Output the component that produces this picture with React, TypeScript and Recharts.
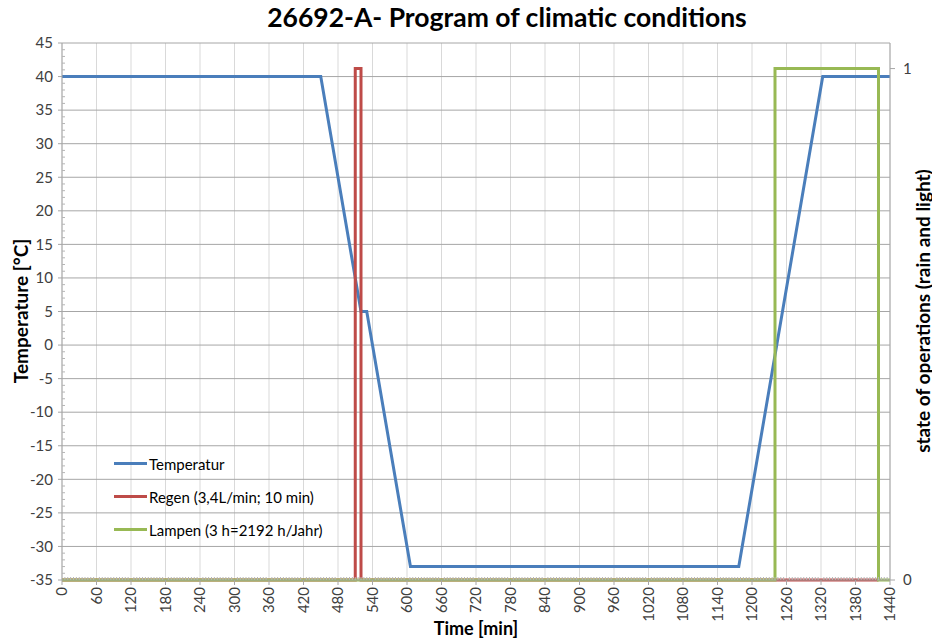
import { CartesianGrid, Line, LineChart, XAxis, YAxis } from "recharts";

const tempTime = [0, 450, 520, 530, 606, 1177, 1323, 1440];
const tempValue = [40, 40, 5, 5, -33, -33, 40, 40];

const rainTime = [0, 510, 510, 520, 520, 1420];
const rainState = [0, 0, 1, 1, 0, 0];

const lampTime = [0, 1240, 1240, 1420, 1420, 1440];
const lampState = [0, 0, 1, 1, 0, 0];

const xTicks = [
   0, 60, 120, 180, 240, 300, 360, 420, 480, 540, 600, 660, 720, 780, 840, 900, 960, 1020,
   1080, 1140, 1200, 1260, 1320, 1380, 1440,
];
const yTicks = [-35, -30, -25, -20, -15, -10, -5, 0, 5, 10, 15, 20, 25, 30, 35, 40, 45];
const stateTicks = [0, 1];

// minor tick marks (every 5 min on time axis, every 1 °C on temperature axis)
const xMinorTicks = Array.from({ length: 289 }, (_, i) => i * 5);
const yMinorTicks = Array.from({ length: 81 }, (_, i) => i - 35);

const X_DOMAIN: [number, number] = [0, 1440];
const Y_DOMAIN: [number, number] = [-35, 45];

const temperature = tempTime.map((t, i) => ({ t, v: tempValue[i] }));
const rain = rainTime.map((t, i) => ({ t, v: rainState[i] }));
const lamps = lampTime.map((t, i) => ({ t, v: lampState[i] }));

const FONT = "Lato, 'Open Sans', sans-serif";
const BLUE = "#4a7ebb";
const RED = "#be4b48";
const GREEN = "#98b954";
const AXIS = "#a6a6a6";

const legendItems = [
   { label: "Temperatur", color: BLUE },
   { label: "Regen (3,4L/min; 10 min)", color: RED },
   { label: "Lampen (3 h=2192 h/Jahr)", color: GREEN },
];

// time axis: major tick + rotated label every 60 min, small inner tick every 5 min
function TimeTick({ x, y, payload }: any) {
   if (!xTicks.includes(payload.value)) {
      return <line x1={x} x2={x} y1={y} y2={y - 3} stroke="#b5b5b5" strokeWidth={1} />;
   }
   return (
      <g transform={`translate(${x},${y})`}>
         <line x1={0} x2={0} y1={0} y2={5} stroke={AXIS} strokeWidth={1} />
         <text
            transform="translate(0,7) rotate(-90)"
            textAnchor="end"
            dy="0.35em"
            fontSize={15}
            fontFamily={FONT}
            fill="#404040"
         >
            {payload.value}
         </text>
      </g>
   );
}

// temperature axis: major tick + label every 5 °C, small inner tick every 1 °C
function TempTick({ x, y, payload }: any) {
   if (!yTicks.includes(payload.value)) {
      return <line x1={x} x2={x + 3} y1={y} y2={y} stroke="#b5b5b5" strokeWidth={1} />;
   }
   return (
      <g transform={`translate(${x},${y})`}>
         <line x1={-4} x2={0} y1={0} y2={0} stroke={AXIS} strokeWidth={1} />
         <text x={-9} textAnchor="end" dy="0.35em" fontSize={15} fontFamily={FONT} fill="#404040">
            {payload.value}
         </text>
      </g>
   );
}

// grid only on the major ticks
const verticalGrid = ({ xAxis, offset }: any) =>
   xTicks.map((t) =>
      typeof xAxis?.scale === "function"
         ? xAxis.scale(t)
         : offset.left + ((t - X_DOMAIN[0]) / (X_DOMAIN[1] - X_DOMAIN[0])) * offset.width,
   );
const horizontalGrid = ({ yAxis, offset }: any) =>
   yTicks.map((v) =>
      typeof yAxis?.scale === "function"
         ? yAxis.scale(v)
         : offset.top + ((Y_DOMAIN[1] - v) / (Y_DOMAIN[1] - Y_DOMAIN[0])) * offset.height,
   );

const axisTitle = {
   position: "absolute" as const,
   whiteSpace: "nowrap" as const,
   fontFamily: FONT,
   fontWeight: 700,
   fontSize: 19,
   color: "#000",
};

export default function App() {
   return (
      <div style={{ position: "absolute", left: 0, top: 0, width: 932, height: 639, background: "#fff" }}>
         <div
            style={{
               position: "absolute",
               left: 0,
               width: 1014,
               top: 1,
               textAlign: "center",
               fontFamily: FONT,
               fontWeight: 700,
               fontSize: 26.5,
               color: "#000",
            }}
         >
            26692-A- Program of climatic conditions
         </div>

         <LineChart width={932} height={639} margin={{ top: 43, right: 0, bottom: 0, left: 0 }}>
            <CartesianGrid
               horizontal={false}
               stroke="#d9d9d9"
               strokeWidth={1}
               verticalCoordinatesGenerator={verticalGrid}
            />
            <CartesianGrid
               vertical={false}
               stroke={AXIS}
               strokeWidth={1}
               horizontalCoordinatesGenerator={horizontalGrid}
            />
            <XAxis
               type="number"
               dataKey="t"
               domain={X_DOMAIN}
               ticks={xMinorTicks}
               interval={0}
               height={59}
               stroke={AXIS}
               tickLine={false}
               tickSize={0}
               tickMargin={0}
               tick={<TimeTick />}
            />
            <YAxis
               type="number"
               domain={Y_DOMAIN}
               ticks={yMinorTicks}
               interval={0}
               width={62}
               stroke={AXIS}
               tickLine={false}
               tickSize={0}
               tickMargin={0}
               tick={<TempTick />}
            />
            <YAxis
               yAxisId="right"
               orientation="right"
               type="number"
               domain={[0, 1.05]}
               ticks={stateTicks}
               interval={0}
               width={42}
               stroke={AXIS}
               tickSize={5}
               tickMargin={8}
               tick={{ fontSize: 15, fontFamily: FONT, fill: "#404040", textAnchor: "start" }}
            />
            <Line
               data={temperature}
               dataKey="v"
               type="linear"
               stroke={BLUE}
               strokeWidth={3}
               dot={false}
               isAnimationActive={false}
            />
            <Line
               data={rain}
               dataKey="v"
               yAxisId="right"
               type="linear"
               stroke={RED}
               strokeWidth={3}
               dot={false}
               isAnimationActive={false}
            />
            <Line
               data={lamps}
               dataKey="v"
               yAxisId="right"
               type="linear"
               stroke={GREEN}
               strokeWidth={3}
               dot={false}
               isAnimationActive={false}
            />
         </LineChart>

         {/* axis titles */}
         <div style={{ ...axisTitle, left: 20, top: 311, transform: "translate(-50%, -50%) rotate(-90deg)" }}>
            Temperature [°C]
         </div>
         <div style={{ ...axisTitle, left: 922, top: 311, transform: "translate(-50%, -50%) rotate(-90deg)" }}>
            state of operations (rain and light)
         </div>
         <div style={{ ...axisTitle, left: 476, top: 628, fontSize: 18, transform: "translate(-50%, -50%)" }}>
            Time [min]
         </div>

         {/* legend */}
         <div style={{ position: "absolute", left: 114, top: 447, fontFamily: FONT, fontSize: 15 }}>
            {legendItems.map((item) => (
               <div key={item.label} style={{ display: "flex", alignItems: "center", height: 33 }}>
                  <span style={{ width: 33, height: 3, background: item.color, marginRight: 2 }} />
                  <span style={{ color: "#000" }}>{item.label}</span>
               </div>
            ))}
         </div>
      </div>
   );
}
